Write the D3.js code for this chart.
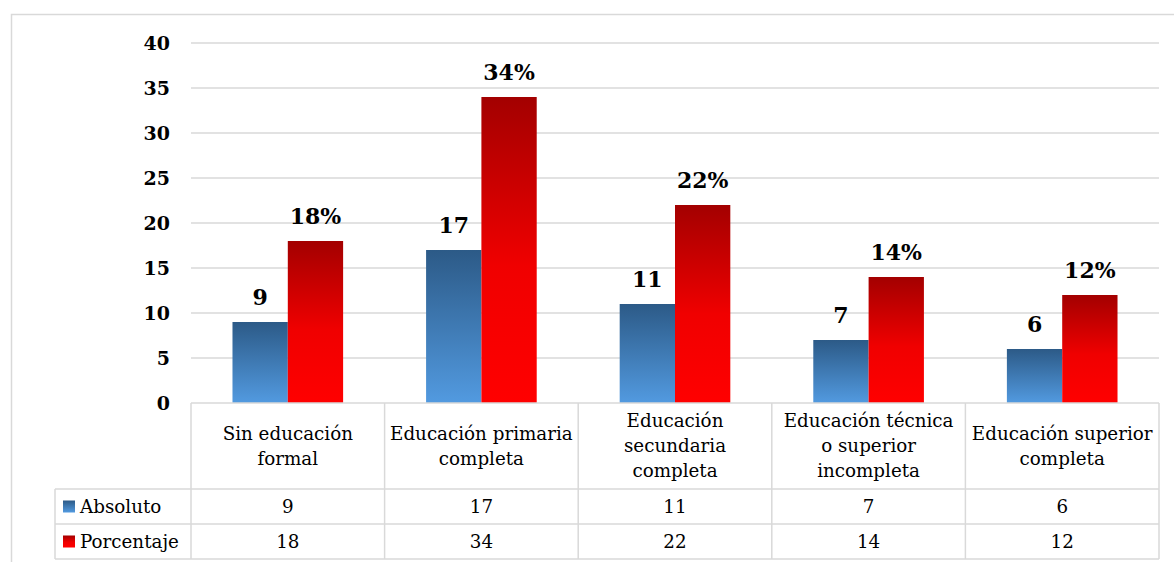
<!DOCTYPE html>
<html><head><meta charset="utf-8">
<script src="https://cdn.jsdelivr.net/npm/d3@7"></script>
<style>body{margin:0;background:#fff}svg{display:block}</style>
</head><body><svg id="c" width="1174" height="562"></svg>
<script>
const categories = ["Sin educación formal","Educación primaria completa","Educación secundaria completa","Educación técnica o superior incompleta","Educación superior completa"];
const categoryLines = [["Sin educación","formal"],["Educación primaria","completa"],["Educación","secundaria","completa"],["Educación técnica","o superior","incompleta"],["Educación superior","completa"]];
const seriesNames = ["Absoluto","Porcentaje"];
const absoluto = [9,17,11,7,6];
const porcentaje = [18,34,22,14,12];
const yTicks = [0,5,10,15,20,25,30,35,40];

(function(){
const FONT="'DejaVu Serif', serif";
const TFS=18.3;
const svg = d3.select("#c").attr("font-family",FONT);
const pLeft=191,pRight=1159,pTop=43,pBottom=403;
const rowY=[403,489,524,559];
const legendLeft=55;

const defs=svg.append("defs");
const gb=defs.append("linearGradient").attr("id","gBlue").attr("x1",0).attr("y1",0).attr("x2",0).attr("y2",1);
gb.append("stop").attr("offset","0%").attr("stop-color","#2c5a87");
gb.append("stop").attr("offset","100%").attr("stop-color","#529ae0");
const gr=defs.append("linearGradient").attr("id","gRed").attr("x1",0).attr("y1",0).attr("x2",0).attr("y2",1);
gr.append("stop").attr("offset","0%").attr("stop-color","#a30000");
gr.append("stop").attr("offset","55%").attr("stop-color","#f00000");
gr.append("stop").attr("offset","100%").attr("stop-color","#ff0000");
const fills=["url(#gBlue)","url(#gRed)"];

svg.append("rect").attr("x",11.5).attr("y",14.5).attr("width",1200).attr("height",600)
  .attr("fill","none").attr("stroke","#d9d9d9").attr("stroke-width",1.5);

const x=d3.scaleBand().domain(categories).range([pLeft,pRight]).paddingInner(0).paddingOuter(0);
const y=d3.scaleLinear().domain([0,40]).range([pBottom,pTop]);
const bw=x.bandwidth()/3.5;
const x1=d3.scaleBand().domain(seriesNames).range([x.bandwidth()/2-bw, x.bandwidth()/2+bw]).padding(0);

svg.append("g").selectAll("line").data(yTicks.filter(d=>d>0)).join("line")
  .attr("x1",pLeft).attr("x2",pRight).attr("y1",d=>y(d)).attr("y2",d=>y(d))
  .attr("stroke","#d9d9d9").attr("stroke-width",1.5);

const yAxis=d3.axisLeft(y).tickValues(yTicks).tickSize(0).tickPadding(0).tickFormat(d3.format("d"));
const ga=svg.append("g").attr("transform",`translate(170,0)`).call(yAxis);
ga.select(".domain").remove();
ga.attr("font-family",FONT).attr("font-size",19);
ga.selectAll("text").attr("font-size",19).attr("font-weight","bold").attr("fill","#000")
  .attr("font-family",FONT).attr("dy","0.35em");

const series=[absoluto,porcentaje];
const g=svg.append("g");
series.forEach((vals,si)=>{
  g.selectAll(null).data(vals).join("rect")
   .attr("x",(d,i)=>x(categories[i])+x1(seriesNames[si]))
   .attr("y",d=>y(d)).attr("width",x1.bandwidth()).attr("height",d=>y(0)-y(d))
   .attr("fill",fills[si]);
  g.selectAll(null).data(vals).join("text")
   .attr("x",(d,i)=>x(categories[i])+x1(seriesNames[si])+x1.bandwidth()/2)
   .attr("y",d=>y(d)-17).attr("text-anchor","middle")
   .attr("font-size",22).attr("font-weight","bold").attr("fill","#000")
   .text(d=>si===1? d+"%" : d);
});

const tg=svg.append("g").attr("stroke","#d9d9d9").attr("stroke-width",1.5);
tg.append("line").attr("x1",pLeft).attr("x2",pRight).attr("y1",rowY[0]).attr("y2",rowY[0]);
rowY.slice(1).forEach(yy=>tg.append("line").attr("x1",legendLeft).attr("x2",pRight).attr("y1",yy).attr("y2",yy));
tg.append("line").attr("x1",legendLeft).attr("x2",legendLeft).attr("y1",rowY[1]).attr("y2",rowY[3]);
const bounds=categories.map(c=>x(c)).concat([pRight]);
tg.selectAll(null).data(bounds).join("line").attr("x1",d=>d).attr("x2",d=>d).attr("y1",rowY[0]).attr("y2",rowY[3]);

categories.forEach((c,i)=>{
  const lines=categoryLines[i];
  const cy=(rowY[0]+rowY[1])/2;
  const lh=25;
  const t=svg.append("text").attr("text-anchor","middle").attr("font-size",TFS).attr("fill","#000");
  lines.forEach((ln,j)=>{
    t.append("tspan").attr("x",x(c)+x.bandwidth()/2).attr("y",cy+(j-(lines.length-1)/2)*lh).attr("dy","0.35em").text(ln);
  });
});
series.forEach((vals,si)=>{
  const cy=(rowY[si+1]+rowY[si+2])/2;
  svg.append("g").selectAll("text").data(vals).join("text")
    .attr("x",(d,i)=>x(categories[i])+x.bandwidth()/2).attr("y",cy).attr("dy","0.35em")
    .attr("text-anchor","middle").attr("font-size",TFS).attr("fill","#000").text(d=>d);
  svg.append("rect").attr("x",63).attr("y",cy-6).attr("width",12).attr("height",12).attr("fill",fills[si]);
  svg.append("text").attr("x",80).attr("y",cy).attr("dy","0.35em").attr("font-size",TFS).attr("fill","#000").text(seriesNames[si]);
});
})();
</script></body></html>
